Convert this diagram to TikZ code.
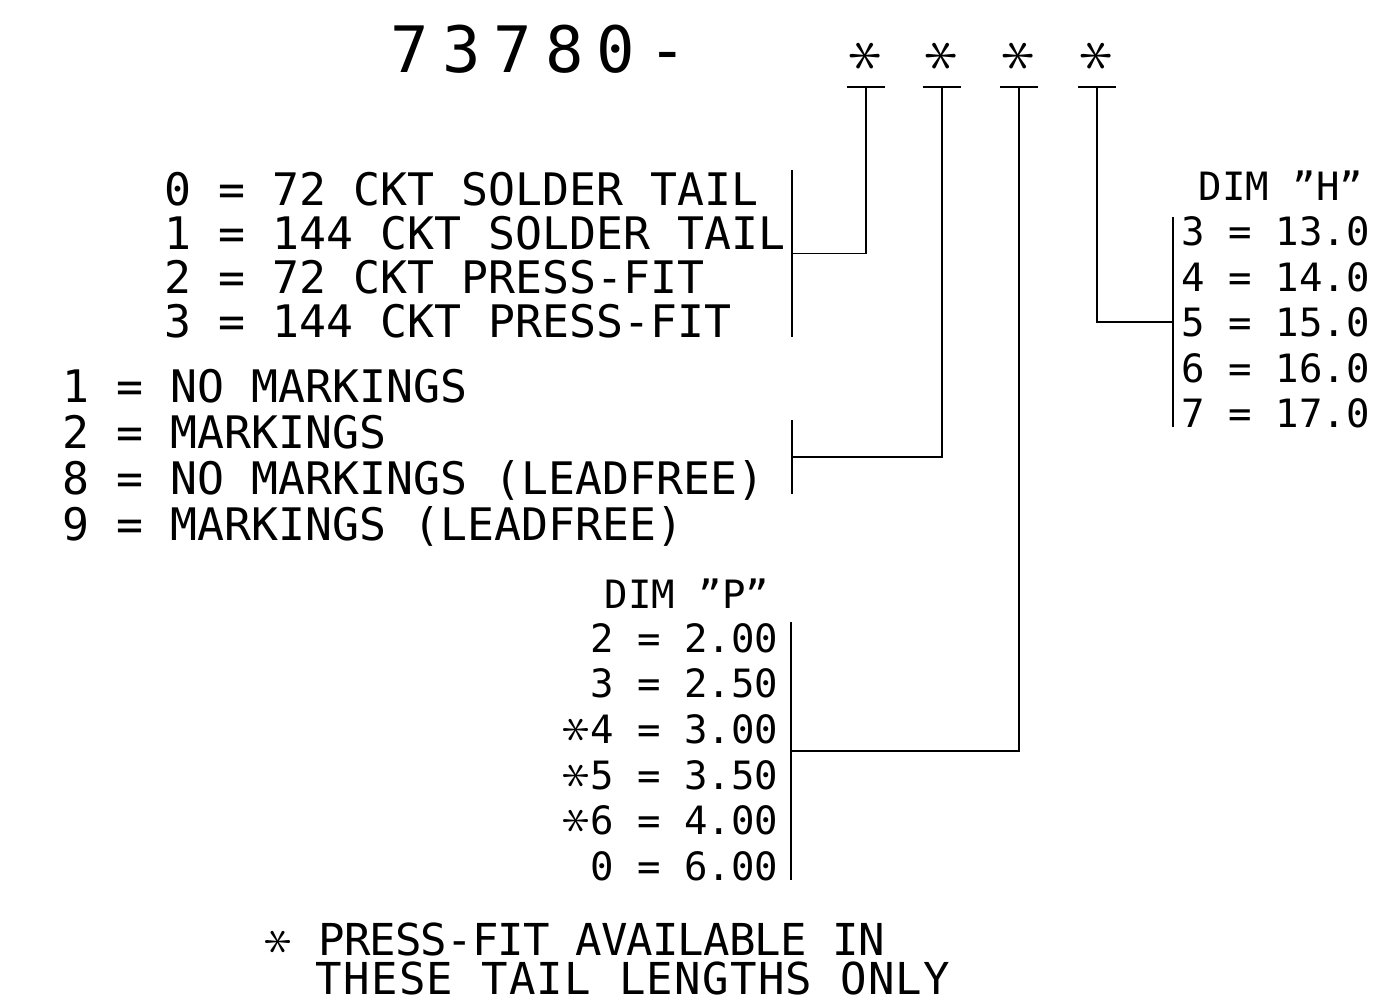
\documentclass[tikz,border=0pt]{standalone}
\usepackage{graphicx}
\usepackage{fontspec}
\setmainfont{DejaVu Sans Mono}
\usetikzlibrary{calc}
\newcommand{\xast}{\rotatebox[origin=c]{90}{\scalebox{1.4}{$\ast$}}}

\begin{document}
\begin{tikzpicture}[x=0.5pt,y=-0.5pt,line width=0.8pt,
  every node/.style={inner sep=0pt,anchor=base west},
  partno/.style={font=\fontsize{32}{34}\selectfont\addfontfeatures{LetterSpace=-40}},
  star/.style={anchor=center,font=\fontsize{25}{25}\selectfont},
  txt/.style={font=\fontsize{22.4}{24}\selectfont},
  dim/.style={font=\fontsize{19.5}{21}\selectfont}]
\useasboundingbox (0,0) rectangle (1377,1002);

% part number and the four code places
\node[partno] (num) at (390,72) {7 3 7 8 0 -};
\node[star] (a1) at (866,56) {\xast};
\node[star] (a2) at (942,56) {\xast};
\node[star] (a3) at (1019,56) {\xast};
\node[star] (a4) at (1097,56) {\xast};
\coordinate (t1) at ($(a1)+(0,31)$);
\coordinate (t2) at ($(a2)+(0,31)$);
\coordinate (t3) at ($(a3)+(0,31)$);
\coordinate (t4) at ($(a4)+(0,31)$);
\draw (t1) ++(-19,0) -- ++(38,0);
\draw (t2) ++(-19,0) -- ++(38,0);
\draw (t3) ++(-19,0) -- ++(38,0);
\draw (t4) ++(-19,0) -- ++(38,0);

% circuits / tail
\node[txt] (c0) at (164,205) {0 = 72 CKT SOLDER TAIL};
\node[txt] (c1) at (164,249) {1 = 144 CKT SOLDER TAIL};
\node[txt] (c2) at (164,293) {2 = 72 CKT PRESS-FIT};
\node[txt] (c3) at (164,337) {3 = 144 CKT PRESS-FIT};
\coordinate (b1n) at (792,170);
\coordinate (b1s) at (792,337);
\draw (b1n) -- (b1s);
\draw (t1) |- ($(b1n)!.5!(b1s)$);

% markings
\node[txt] (m1) at (62,402) {1 = NO MARKINGS};
\node[txt] (m2) at (62,448) {2 = MARKINGS};
\node[txt] (m8) at (62,494) {8 = NO MARKINGS (LEADFREE)};
\node[txt] (m9) at (62,540) {9 = MARKINGS (LEADFREE)};
\coordinate (b2n) at (792,420);
\coordinate (b2s) at (792,494);
\draw (b2n) -- (b2s);
\draw (t2) |- ($(b2n)!.5!(b2s)$);

% dim P
\node[dim] (ptitle) at (604,608) {DIM "P"};
\node[dim,anchor=base east] (p2) at (779,652) {2 = 2.00};
\node[dim,anchor=base east] (p3) at (779,697) {3 = 2.50};
\node[dim,anchor=base east] (p4) at (779,743) {\xast4 = 3.00};
\node[dim,anchor=base east] (p5) at (779,789) {\xast5 = 3.50};
\node[dim,anchor=base east] (p6) at (779,834) {\xast6 = 4.00};
\node[dim,anchor=base east] (p0) at (779,880) {0 = 6.00};
\coordinate (b3n) at (791,622);
\coordinate (b3s) at (791,880);
\draw (b3n) -- (b3s);
\draw (t3) |- ($(b3n)!.5!(b3s)$);

% dim H
\node[dim] (htitle) at (1198,200) {DIM "H"};
\node[dim] (h3) at (1181,245) {3 = 13.0};
\node[dim] (h4) at (1181,291) {4 = 14.0};
\node[dim] (h5) at (1181,336) {5 = 15.0};
\node[dim] (h6) at (1181,382) {6 = 16.0};
\node[dim] (h7) at (1181,427) {7 = 17.0};
\coordinate (b4n) at (1173,217);
\coordinate (b4s) at (1173,427);
\draw (b4n) -- (b4s);
\draw (t4) |- ($(b4n)!.5!(b4s)$);

% note
\node[txt,font=\fontsize{22}{24}\selectfont\addfontfeatures{LetterSpace=-2}] (note1) at (265,955) {\xast{} PRESS-FIT AVAILABLE IN};
\node[txt,font=\fontsize{22}{24}\selectfont\addfontfeatures{LetterSpace=3}] (note2) at (315,994) {THESE TAIL LENGTHS ONLY};
\end{tikzpicture}
\end{document}
